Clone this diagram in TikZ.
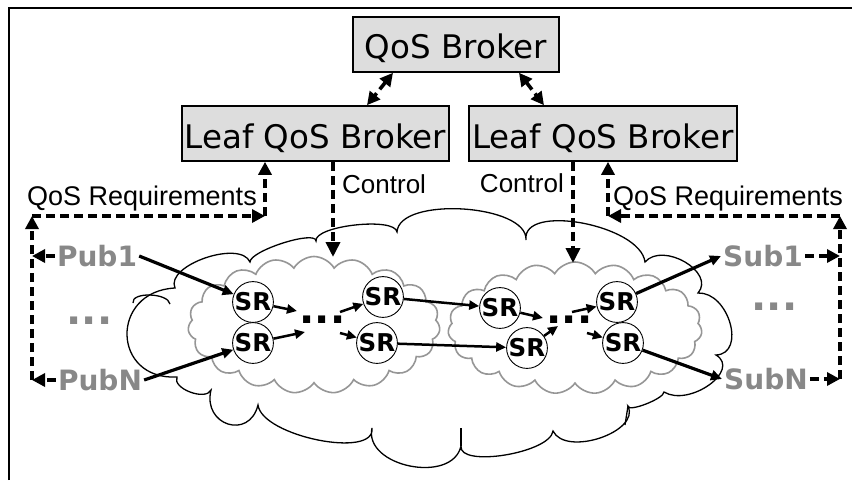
\documentclass[tikz,border=0pt]{standalone}
\usepackage{fontspec}
\setmainfont{DejaVu Sans}
\newfontfamily\arialf{Liberation Sans}
\usetikzlibrary{arrows.meta,calc,shapes.symbols}
\definecolor{boxgray}{RGB}{221,221,221}
\definecolor{txtgray}{RGB}{136,136,136}
\definecolor{cloudgray}{RGB}{150,150,150}
\newcommand\lobe[3]{.. controls ($1/3*(#1)-2/3*(#3)+4/3*(#2)$) and ($1/3*(#3)-2/3*(#1)+4/3*(#2)$) .. (#3)}
\begin{document}
\begin{tikzpicture}[x=1pt,y=-1pt,
  brokerbox/.style={draw=black, line width=1.6pt, fill=boxgray, inner sep=0pt, text depth=0pt, font=\fontsize{32.5}{34}\selectfont},
  srnode/.style={circle, draw=black, line width=0.9pt, fill=white, minimum size=34pt, inner sep=0pt, font=\bfseries\fontsize{24.5}{25}\selectfont},
  endpt/.style={text=txtgray, font=\bfseries\fontsize{28}{30}\selectfont, inner sep=2pt},
  lbl/.style={font=\arialf\fontsize{26}{28}\selectfont, inner sep=0pt},
  reqlbl/.style={font=\arialf\fontsize{27}{28}\selectfont, inner sep=0pt},
  flow/.style={-{Triangle[length=10pt,width=9pt]}, line width=2.5pt},
  bigflow/.style={-{Triangle[length=11pt,width=10pt]}, line width=3.2pt},
  qarrow/.style={line width=3.6pt, dash pattern=on 9pt off 5pt, -{Triangle[length=13pt,width=13pt]}},
  dblarrow/.style={line width=3.6pt, dash pattern=on 9pt off 5pt, {Triangle[length=13pt,width=13pt]}-{Triangle[length=13pt,width=13pt]}},
  ctrlarrow/.style={line width=3.6pt, dash pattern=on 9pt off 5pt, -{Triangle[length=15pt,width=14pt]}},
  bigcloud/.style={draw=black, line width=1.3pt, fill=white},
  smallcloud/.style={cloud, cloud puffs=19, cloud puff arc=120, cloud ignores aspect, draw=cloudgray, line width=1.6pt, fill=white, inner sep=0pt},
  dotsstyle/.style={font=\bfseries\fontsize{40}{40}\selectfont, inner sep=0pt, anchor=base}
]
\useasboundingbox (0,0) rectangle (852,480);
% frame
\draw[line width=1.2pt] (9,480) -- (9,8) -- (852,8);

% big cloud
\draw[bigcloud] (177,377) \lobe{177,377}{127,335}{175,288}
  \lobe{175,288}{205,258}{250,262}
  \lobe{250,262}{283,243}{316,241}
  \lobe{316,241}{355,225}{397,232}
  \lobe{397,232}{463,209}{526,240}
  \lobe{526,240}{582,223}{645,262}
  \lobe{645,262}{685,262}{698,293}
  \lobe{698,293}{730,323}{716,355}
  \lobe{716,355}{709,385}{664,392}
  \lobe{664,392}{646,404}{628,406}
  \lobe{628,406}{600,438}{553,431}
  \lobe{553,431}{505,455}{461,446}
  \lobe{461,446}{410,466}{372,428}
  \lobe{372,428}{318,440}{258,405}
  \lobe{258,405}{228,424}{211,390}
  \lobe{211,390}{190,392}{177,377} -- cycle;
\draw[line width=1.3pt] (133,303) \lobe{133,303}{150,295}{170,304};
\draw[line width=1.3pt] (461,428) -- (461,446);
\draw[line width=1.3pt] (628,406) -- (625,425);

% gray clouds
\node[smallcloud, minimum width=252pt, minimum height=137pt] (cloudL) at (314,325) {};
\node[smallcloud, minimum width=254pt, minimum height=132pt] (cloudR) at (575,328) {};

% brokers
\node[brokerbox, minimum width=206pt, minimum height=55pt, text height=27pt] (broker) at (456,44.5) {QoS Broker};
\node[brokerbox, minimum width=267pt, minimum height=55pt, text height=29pt] (leafL) at (315.5,133.5) {Leaf QoS Broker};
\node[brokerbox, minimum width=268pt, minimum height=55pt, text height=29pt] (leafR) at (603,133.5) {Leaf QoS Broker};

\draw[dblarrow] (393,0 |- broker.south) -- (367,0 |- leafL.north);
\draw[dblarrow] (519,0 |- broker.south) -- (544,0 |- leafR.north);

% labels
\node[reqlbl, anchor=base west] (reqL) at (27,205) {QoS Requirements};
\node[reqlbl, anchor=base west] (reqR) at (613,205) {QoS Requirements};
\node[lbl, anchor=base west] (ctrlL) at (342,193) {Control};
\node[lbl, anchor=base east] (ctrlR) at (564,192) {Control};

% endpoints
\node[endpt] (pub1) at (97,256) {Pub1};
\node[endpt] (pubN) at (100,380) {PubN};
\node[endpt] (sub1) at (763,256) {Sub1};
\node[endpt] (subN) at (766,379) {SubN};
\node[dotsstyle, text=txtgray] (pubdots) at (89.5,324) {...};
\node[dotsstyle, text=txtgray] (subdots) at (774.5,310) {...};

% SR nodes
\node[srnode] (sr1) at (253,302) {SR};
\node[srnode] (sr2) at (253,343) {SR};
\node[srnode] (sr3) at (383,297) {SR};
\node[srnode] (sr4) at (377,343) {SR};
\node[srnode] (sr5) at (500,308) {SR};
\node[srnode] (sr6) at (527,348) {SR};
\node[srnode] (sr7) at (617,302) {SR};
\node[srnode] (sr8) at (623,343) {SR};
\node[dotsstyle] (midL) at (322.5,323) {...};
\node[dotsstyle] (midR) at (569.5,323) {...};

% dashed requirement paths
\coordinate (cornerL) at (32,216);
\coordinate (cornerLR) at (265,216);
\coordinate (cornerR) at (608,216);
\coordinate (cornerRR) at (840,216);
\coordinate (pl1) at (cornerL |- pub1.west);
\coordinate (plN) at (cornerL |- pubN.west);
\coordinate (sl1) at (cornerRR |- sub1.east);
\coordinate (slN) at (cornerRR |- subN.east);
\draw[qarrow] (pub1.west) -- (pl1);
\draw[qarrow] (pubN.west) -- (plN);
\draw[qarrow] (plN) -- (cornerL);
\draw[qarrow] (cornerL) -- (cornerLR);
\draw[qarrow] (cornerLR) -- (cornerLR |- leafL.south);
\draw[qarrow] (sub1.east) -- (sl1);
\draw[qarrow] (subN.east) -- (slN);
\draw[qarrow] (slN) -- (cornerRR);
\draw[qarrow] (cornerRR) -- (cornerR);
\draw[qarrow] (cornerR) -- (cornerR |- leafR.south);

% control arrows
\coordinate (ctlL) at (333,257);
\coordinate (ctlR) at (573,263);
\draw[ctrlarrow] (ctlL |- leafL.south) -- (ctlL);
\draw[ctrlarrow] (ctlR |- leafR.south) -- (ctlR);

% flow arrows
\coordinate (dL1) at (297,311);
\coordinate (dL2) at (305,332);
\coordinate (dL3) at (340,312);
\coordinate (dL4) at (340,333);
\coordinate (dR1) at (543,318);
\coordinate (dR2) at (558,326);
\coordinate (dR3) at (572,312);
\coordinate (dR4) at (587,333);
\draw[bigflow] (pub1.east) -- (sr1);
\draw[bigflow] (pubN.east) -- (sr2);
\draw[flow] (sr1) -- (dL1);
\draw[flow] (sr2) -- (dL2);
\draw[flow] (dL3) -- (sr3);
\draw[flow] (dL4) -- (sr4);
\draw[flow] (sr3) -- (sr5);
\draw[flow] (sr4) -- (sr6);
\draw[flow] (sr5) -- (dR1);
\draw[flow] (sr6) -- (dR2);
\draw[flow] (dR3) -- (sr7);
\draw[flow] (dR4) -- (sr8);
\draw[bigflow] (sr7) -- (sub1.west);
\draw[bigflow] (sr8) -- (subN.west);
\end{tikzpicture}
\end{document}
